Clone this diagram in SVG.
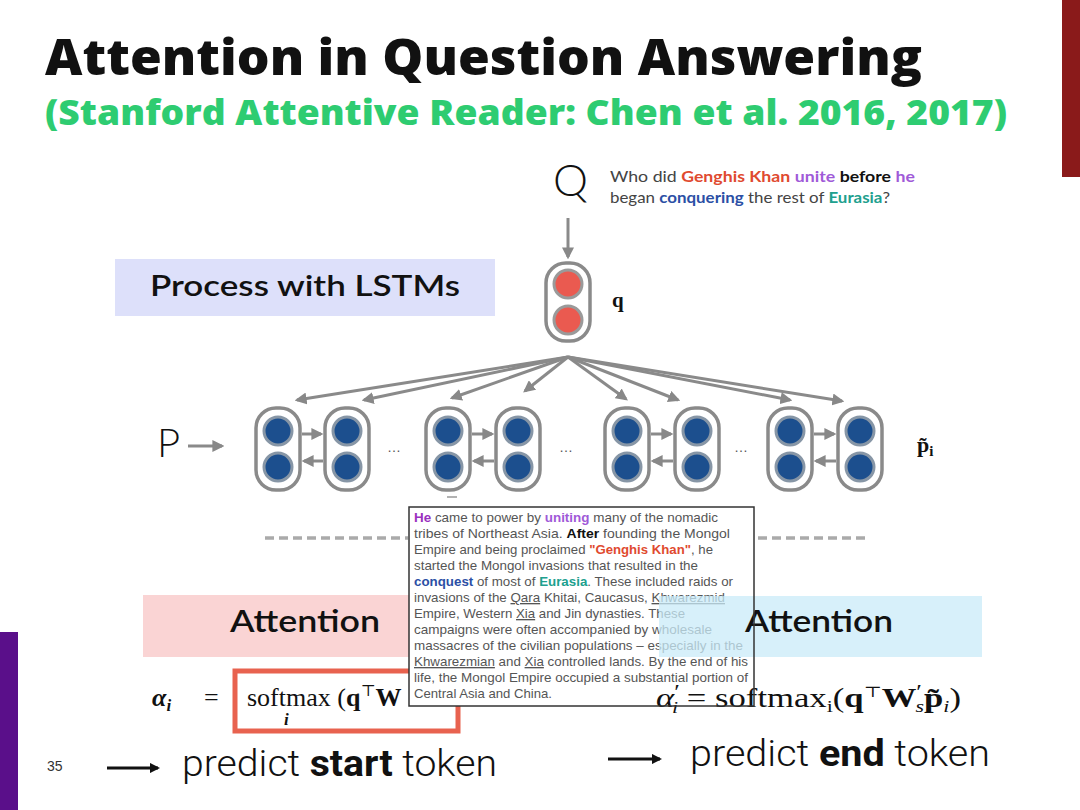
<svg xmlns="http://www.w3.org/2000/svg" width="1080" height="810" viewBox="0 0 1080 810">
<defs>
<marker id="ag" viewBox="0 0 10 10" refX="8" refY="5" markerWidth="4" markerHeight="4" orient="auto" markerUnits="strokeWidth"><path d="M0,0 L10,5 L0,10 z" fill="#888"/></marker>
<marker id="ak" viewBox="0 0 10 10" refX="8" refY="5" markerWidth="3.5" markerHeight="3.5" orient="auto" markerUnits="strokeWidth"><path d="M0,0 L10,5 L0,10 z" fill="#111"/></marker>
<style>
.title{font-family:"Open Sans","Noto Sans",sans-serif;font-weight:800;}
.geo{font-family:Lato,"Noto Sans",sans-serif;}
.cell{fill:#fff;stroke:#8a8a8a;stroke-width:3.5;}
.bc{fill:#1c4f8e;stroke:#8796a6;stroke-width:3;}
.rc{fill:#ea5a50;stroke:#9a9a9a;stroke-width:3;}
.fan{stroke:#8a8a8a;stroke-width:3;fill:none;marker-end:url(#ag);}
.harr{stroke:#8a8a8a;stroke-width:3;fill:none;marker-end:url(#ag);}
.para{font-family:"Liberation Sans",Arial,sans-serif;font-size:13.3px;fill:#555;}
.math{font-family:"Liberation Serif","DejaVu Serif",serif;fill:#111;}
.dots{font-family:"Liberation Sans",sans-serif;font-size:14px;fill:#555;}
.foot{font-family:Roboto,"Liberation Sans",sans-serif;font-weight:300;font-size:37px;fill:#111;}
</style>
</defs>
<rect width="1080" height="810" fill="#fff"/>
<rect x="1062" y="0" width="18" height="177" fill="#8a1a1a"/>
<rect x="0" y="632" width="18" height="178" fill="#5a0f8a"/>

<g id="title">
<text class="title" x="45" y="75" font-size="50" fill="#111" textLength="877" lengthAdjust="spacingAndGlyphs">Attention in Question Answering</text>
<text class="title" x="45" y="125" font-size="36" fill="#2ecc71" textLength="962" lengthAdjust="spacingAndGlyphs">(Stanford Attentive Reader: Chen et al. 2016, 2017)</text>
</g>

<g id="question">
<text class="geo" x="553" y="196" font-size="44" font-weight="300" fill="#111" textLength="35" lengthAdjust="spacingAndGlyphs">Q</text>
<text class="geo" x="610" y="182" font-size="15" fill="#444" textLength="305" lengthAdjust="spacingAndGlyphs">Who did <tspan fill="#e04a2f" font-weight="bold">Genghis Khan</tspan> <tspan fill="#a05ad8" font-weight="bold">unite</tspan> <tspan fill="#111" font-weight="bold">before</tspan> <tspan fill="#a05ad8" font-weight="bold">he</tspan></text>
<text class="geo" x="610" y="203" font-size="15" fill="#444" textLength="280" lengthAdjust="spacingAndGlyphs">began <tspan fill="#2b4fa5" font-weight="bold">conquering</tspan> the rest of <tspan fill="#20a08e" font-weight="bold">Eurasia</tspan>?</text>
</g>

<g id="lstm-label">
<rect x="115" y="259" width="380" height="57" fill="#dde0fa"/>
<text class="geo" x="150" y="296" font-size="28" font-weight="600" fill="#111" textLength="310" lengthAdjust="spacingAndGlyphs">Process with LSTMs</text>
</g>

<g id="q-cell">
<rect class="cell" x="546" y="263" width="44" height="78" rx="20"/>
<circle class="rc" cx="568" cy="284" r="14"/>
<circle class="rc" cx="568" cy="320" r="14"/>
<text class="math" x="612" y="307" font-size="21" font-weight="bold">q</text>
</g>

<g id="p-input">
<text class="geo" x="157" y="457" font-size="40" font-weight="300" fill="#111">P</text>
</g>

<g id="p-cells">
<g id="c1"><rect class="cell" x="256" y="408" width="44" height="82" rx="20"/><circle class="bc" cx="278" cy="431" r="14"/><circle class="bc" cx="278" cy="467" r="14"/></g>
<g id="c2"><rect class="cell" x="325" y="408" width="44" height="82" rx="20"/><circle class="bc" cx="347" cy="431" r="14"/><circle class="bc" cx="347" cy="467" r="14"/></g>
<g id="c3"><rect class="cell" x="426" y="408" width="44" height="82" rx="20"/><circle class="bc" cx="448" cy="431" r="14"/><circle class="bc" cx="448" cy="467" r="14"/></g>
<g id="c4"><rect class="cell" x="496" y="408" width="44" height="82" rx="20"/><circle class="bc" cx="518" cy="431" r="14"/><circle class="bc" cx="518" cy="467" r="14"/></g>
<g id="c5"><rect class="cell" x="605" y="408" width="44" height="82" rx="20"/><circle class="bc" cx="627" cy="431" r="14"/><circle class="bc" cx="627" cy="467" r="14"/></g>
<g id="c6"><rect class="cell" x="675" y="408" width="44" height="82" rx="20"/><circle class="bc" cx="697" cy="431" r="14"/><circle class="bc" cx="697" cy="467" r="14"/></g>
<g id="c7"><rect class="cell" x="768" y="408" width="44" height="82" rx="20"/><circle class="bc" cx="790" cy="431" r="14"/><circle class="bc" cx="790" cy="467" r="14"/></g>
<g id="c8"><rect class="cell" x="838" y="408" width="44" height="82" rx="20"/><circle class="bc" cx="860" cy="431" r="14"/><circle class="bc" cx="860" cy="467" r="14"/></g>
<text class="dots" x="387" y="452">…</text>
<text class="dots" x="559" y="452">…</text>
<text class="dots" x="734" y="452">…</text>
<line x1="447" y1="497" x2="457" y2="497" stroke="#999" stroke-width="1.5"/>
<text class="math" x="917" y="452" font-size="22" font-weight="bold">p̃<tspan font-size="15" dy="4">i</tspan></text>
</g>

<g id="connectors">
<line class="fan" x1="568" y1="218" x2="568" y2="257"/>
<line x1="188" y1="446" x2="222" y2="446" class="harr"/>
<line class="fan" x1="568" y1="357" x2="297" y2="400"/>
<line class="fan" x1="568" y1="357" x2="364" y2="400"/>
<line class="fan" x1="568" y1="357" x2="452" y2="398"/>
<line class="fan" x1="568" y1="357" x2="525" y2="391"/>
<line class="fan" x1="568" y1="357" x2="626" y2="399"/>
<line class="fan" x1="568" y1="357" x2="678" y2="400"/>
<line class="fan" x1="568" y1="357" x2="790" y2="400"/>
<line class="fan" x1="568" y1="357" x2="842" y2="401"/>
<line class="harr" x1="302" y1="434" x2="321" y2="434"/>
<line class="harr" x1="323" y1="461" x2="304" y2="461"/>
<line class="harr" x1="472" y1="434" x2="492" y2="434"/>
<line class="harr" x1="494" y1="461" x2="474" y2="461"/>
<line class="harr" x1="651" y1="434" x2="671" y2="434"/>
<line class="harr" x1="673" y1="461" x2="653" y2="461"/>
<line class="harr" x1="814" y1="434" x2="834" y2="434"/>
<line class="harr" x1="836" y1="461" x2="816" y2="461"/>
<line x1="265" y1="538" x2="408" y2="538" stroke="#aaa" stroke-width="3.5" stroke-dasharray="9,5"/>
<line x1="758" y1="538" x2="870" y2="538" stroke="#aaa" stroke-width="3.5" stroke-dasharray="9,5"/>
<line x1="107" y1="768" x2="158" y2="768" stroke="#111" stroke-width="3" marker-end="url(#ak)"/>
<line x1="608" y1="759" x2="660" y2="759" stroke="#111" stroke-width="3" marker-end="url(#ak)"/>
</g>

<g id="attention-start">
<rect x="143" y="595" width="270" height="62" fill="#fad4d4"/>
<text class="geo" x="230" y="632" font-size="30" font-weight="600" fill="#111" textLength="150" lengthAdjust="spacingAndGlyphs">Attention</text>
<rect x="235" y="671" width="223" height="60" fill="none" stroke="#e8624f" stroke-width="5"/>
<text class="math" x="152" y="706" font-size="26" font-style="italic" font-weight="bold">α<tspan font-size="17" dy="5">i</tspan></text>
<text class="math" x="204" y="706" font-size="26">=</text>
<text class="math" x="247" y="706" font-size="26">softmax (<tspan font-weight="bold">q</tspan><tspan font-size="16" dy="-10">⊤</tspan><tspan font-weight="bold" dy="10">W</tspan></text>
<text class="math" x="284" y="725" font-size="17" font-style="italic" font-weight="bold">i</text>
</g>

<g id="passage">
<rect x="409" y="507" width="345" height="199" fill="#fff"/>
<text class="para" x="414" y="522" textLength="304" lengthAdjust="spacingAndGlyphs"><tspan fill="#9b30c0" font-weight="bold">He</tspan> came to power by <tspan fill="#a05ad8" font-weight="bold">uniting</tspan> many of the nomadic</text>
<text class="para" x="414" y="538" textLength="316" lengthAdjust="spacingAndGlyphs">tribes of Northeast Asia. <tspan fill="#111" font-weight="bold">After</tspan> founding the Mongol</text>
<text class="para" x="414" y="554" textLength="299" lengthAdjust="spacingAndGlyphs">Empire and being proclaimed <tspan fill="#e04a2f" font-weight="bold">"Genghis Khan"</tspan>, he</text>
<text class="para" x="414" y="570" textLength="284" lengthAdjust="spacingAndGlyphs">started the Mongol invasions that resulted in the</text>
<text class="para" x="414" y="586" textLength="319" lengthAdjust="spacingAndGlyphs"><tspan fill="#2b4fa5" font-weight="bold">conquest</tspan> of most of <tspan fill="#20a08e" font-weight="bold">Eurasia</tspan>. These included raids or</text>
<text class="para" x="414" y="602" textLength="311" lengthAdjust="spacingAndGlyphs">invasions of the <tspan text-decoration="underline">Qara</tspan> Khitai, Caucasus, <tspan text-decoration="underline">Khwarezmid</tspan></text>
<text class="para" x="414" y="618" textLength="271" lengthAdjust="spacingAndGlyphs">Empire, Western <tspan text-decoration="underline">Xia</tspan> and Jin dynasties. These</text>
<text class="para" x="414" y="634" textLength="298" lengthAdjust="spacingAndGlyphs">campaigns were often accompanied by wholesale</text>
<text class="para" x="414" y="650" textLength="329" lengthAdjust="spacingAndGlyphs">massacres of the civilian populations – especially in the</text>
<text class="para" x="414" y="666" textLength="334" lengthAdjust="spacingAndGlyphs"><tspan text-decoration="underline">Khwarezmian</tspan> and <tspan text-decoration="underline">Xia</tspan> controlled lands. By the end of his</text>
<text class="para" x="414" y="682" textLength="334" lengthAdjust="spacingAndGlyphs">life, the Mongol Empire occupied a substantial portion of</text>
<text class="para" x="414" y="698" textLength="138" lengthAdjust="spacingAndGlyphs">Central Asia and China.</text>
</g>

<g id="attention-end">
<rect x="659" y="596" width="323" height="61" fill="#c9ebf8" fill-opacity="0.75"/>
<text class="geo" x="745" y="632" font-size="30" font-weight="600" fill="#111" textLength="148" lengthAdjust="spacingAndGlyphs">Attention</text>
<text class="math" x="656" y="707" font-size="27" textLength="305" lengthAdjust="spacingAndGlyphs"><tspan font-style="italic">α</tspan><tspan font-size="20" dy="-8">′</tspan><tspan font-size="17" font-style="italic" dx="-6" dy="14">i</tspan><tspan dy="-6"> = softmax</tspan><tspan font-size="17" dy="5">i</tspan><tspan dy="-5">(</tspan><tspan font-weight="bold">q</tspan><tspan font-size="15" dy="-10">⊤</tspan><tspan font-weight="bold" dy="10">W</tspan><tspan font-size="20" dy="-8">′</tspan><tspan font-size="17" font-style="italic" dx="-5" dy="13">s</tspan><tspan font-weight="bold" dy="-5">p̃</tspan><tspan font-size="17" font-style="italic" dy="5">i</tspan><tspan dy="-5">)</tspan></text>
</g>

<rect x="409" y="507" width="345" height="199" fill="none" stroke="#333" stroke-width="1.5"/>

<g id="footer">
<text x="47" y="771" font-family="Liberation Sans,sans-serif" font-size="14" fill="#333">35</text>
<text class="foot" x="182" y="776" textLength="315" lengthAdjust="spacingAndGlyphs">predict <tspan font-weight="bold">start</tspan> token</text>
<text class="foot" x="690" y="766" textLength="300" lengthAdjust="spacingAndGlyphs">predict <tspan font-weight="bold">end</tspan> token</text>
</g>
</svg>
